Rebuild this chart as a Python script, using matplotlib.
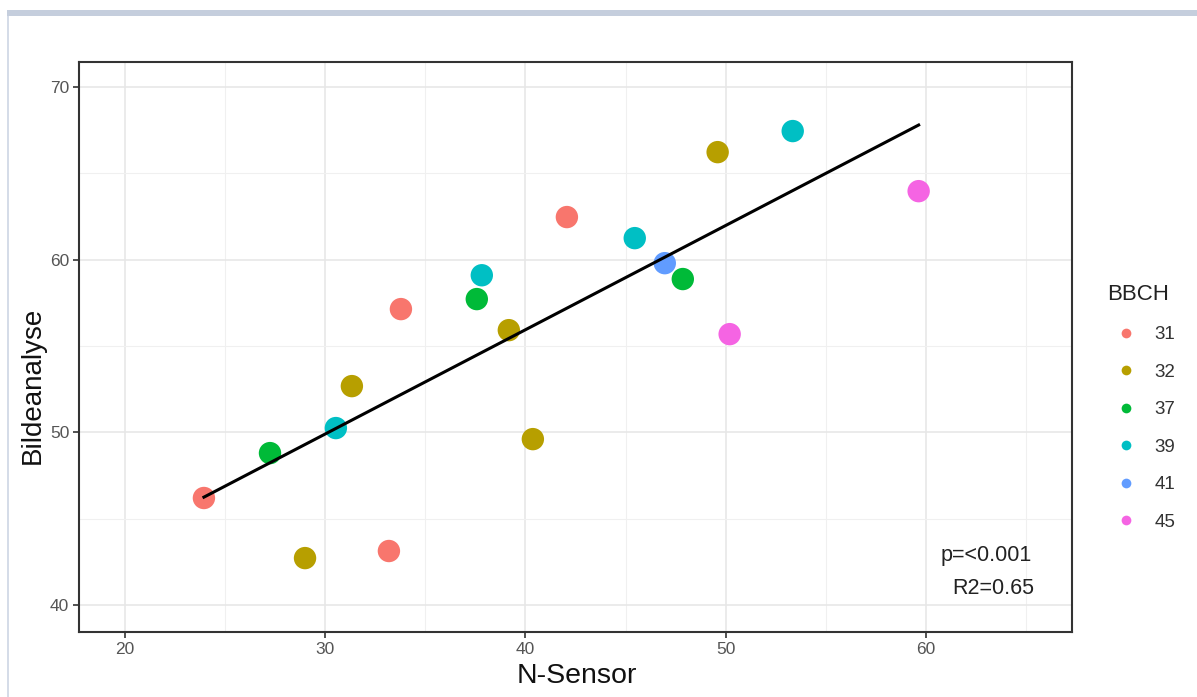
import matplotlib
matplotlib.use("Agg")
import matplotlib.pyplot as plt
from matplotlib.lines import Line2D
from matplotlib.patches import Rectangle

plt.rcParams['font.family'] = ['Liberation Sans', 'DejaVu Sans']

# Data
groups = ["31", "32", "37", "39", "41", "45"]
colors = ["#F8766D", "#B79F00", "#00BA38", "#00BFC4", "#619CFF", "#F564E3"]
x_31 = [23.94, 33.18, 33.78, 42.07]
y_31 = [46.2, 43.13, 57.14, 62.47]
x_32 = [28.99, 31.33, 39.17, 40.37, 49.6]
y_32 = [42.72, 52.68, 55.92, 49.61, 66.23]
x_37 = [27.24, 37.57, 47.86]
y_37 = [48.8, 57.72, 58.88]
x_39 = [30.53, 37.82, 45.46, 53.35]
y_39 = [50.25, 59.1, 61.25, 67.45]
x_41 = [46.96]
y_41 = [59.8]
x_45 = [50.2, 59.64]
y_45 = [55.69, 63.97]
fit_x = [23.94, 59.64]
fit_y = [46.25, 67.8]
x_ticks = [20, 30, 40, 50, 60]
y_ticks = [40, 50, 60, 70]

xs = [x_31, x_32, x_37, x_39, x_41, x_45]
ys = [y_31, y_32, y_37, y_39, y_41, y_45]

W, H = 1197, 697
fig = plt.figure(figsize=(W/100, H/100), dpi=100)
ax = fig.add_axes([79/W, 1-632/H, (1072-79)/W, (632-62)/H])

# outer decoration (light frame like screenshot)
fig.patches.append(Rectangle((7/W, 1-16/H), 1-7/W, 6/H, transform=fig.transFigure,
                             facecolor="#C5CEDD", edgecolor="none", zorder=0))
fig.patches.append(Rectangle((7/W, 0), 2/W, 1-16/H, transform=fig.transFigure,
                             facecolor="#D5DCE8", edgecolor="none", zorder=0))

ax.set_xlim(17.7, 67.3)
ax.set_ylim(38.44, 71.45)
ax.set_xticks(x_ticks)
ax.set_yticks(y_ticks)
ax.set_xticks([25, 35, 45, 55, 65], minor=True)
ax.set_yticks([45, 55, 65], minor=True)
ax.grid(True, which="major", color="#E6E6E6", linewidth=1.1, zorder=0)
ax.grid(True, which="minor", color="#F0F0F0", linewidth=0.8, zorder=0)
ax.tick_params(which="minor", length=0)
ax.tick_params(which="major", length=4, width=1.2, color="#333333",
               labelsize=12.5, labelcolor="#555555", pad=3)
for s in ax.spines.values():
    s.set_color("#333333")
    s.set_linewidth(1.5)
ax.set_axisbelow(True)

for g, c, xv, yv in zip(groups, colors, xs, ys):
    ax.scatter(xv, yv, s=260, color=c, edgecolors="none", zorder=3, label=g)

ax.plot(fit_x, fit_y, color="black", linewidth=2.2, zorder=4)

# axis titles
fig.text(577/W, 1-683/H, "N-Sensor", ha="center", va="baseline",
         fontsize=20.5, color="#111111")
fig.text(33/W, 1-385/H, "Bildeanalyse", ha="center", va="center", rotation=90,
         fontsize=20, color="#111111")

ax.text((1032-79)/993, (632-555)/570, "p=<0.001", transform=ax.transAxes,
        ha="right", va="center", fontsize=15.5, color="#222222")
ax.text((1034-79)/993, (632-589)/570, "R2=0.65", transform=ax.transAxes,
        ha="right", va="center", fontsize=15.5, color="#222222")

handles = [Line2D([0], [0], marker="o", linestyle="none", markersize=7,
                  markerfacecolor=c, markeredgecolor="none") for c in colors]
leg = fig.legend(handles, groups, title="BBCH", loc="upper left",
                 bbox_to_anchor=(1100/W, 1-277/H), frameon=False,
                 fontsize=13.5, title_fontsize=16, labelspacing=1.09,
                 handletextpad=0.5, borderaxespad=0)
leg._legend_box.align = "left"
for t in leg.get_texts():
    t.set_color("#333333")
leg.get_title().set_color("#222222")

fig.savefig("out.png", dpi=100)
